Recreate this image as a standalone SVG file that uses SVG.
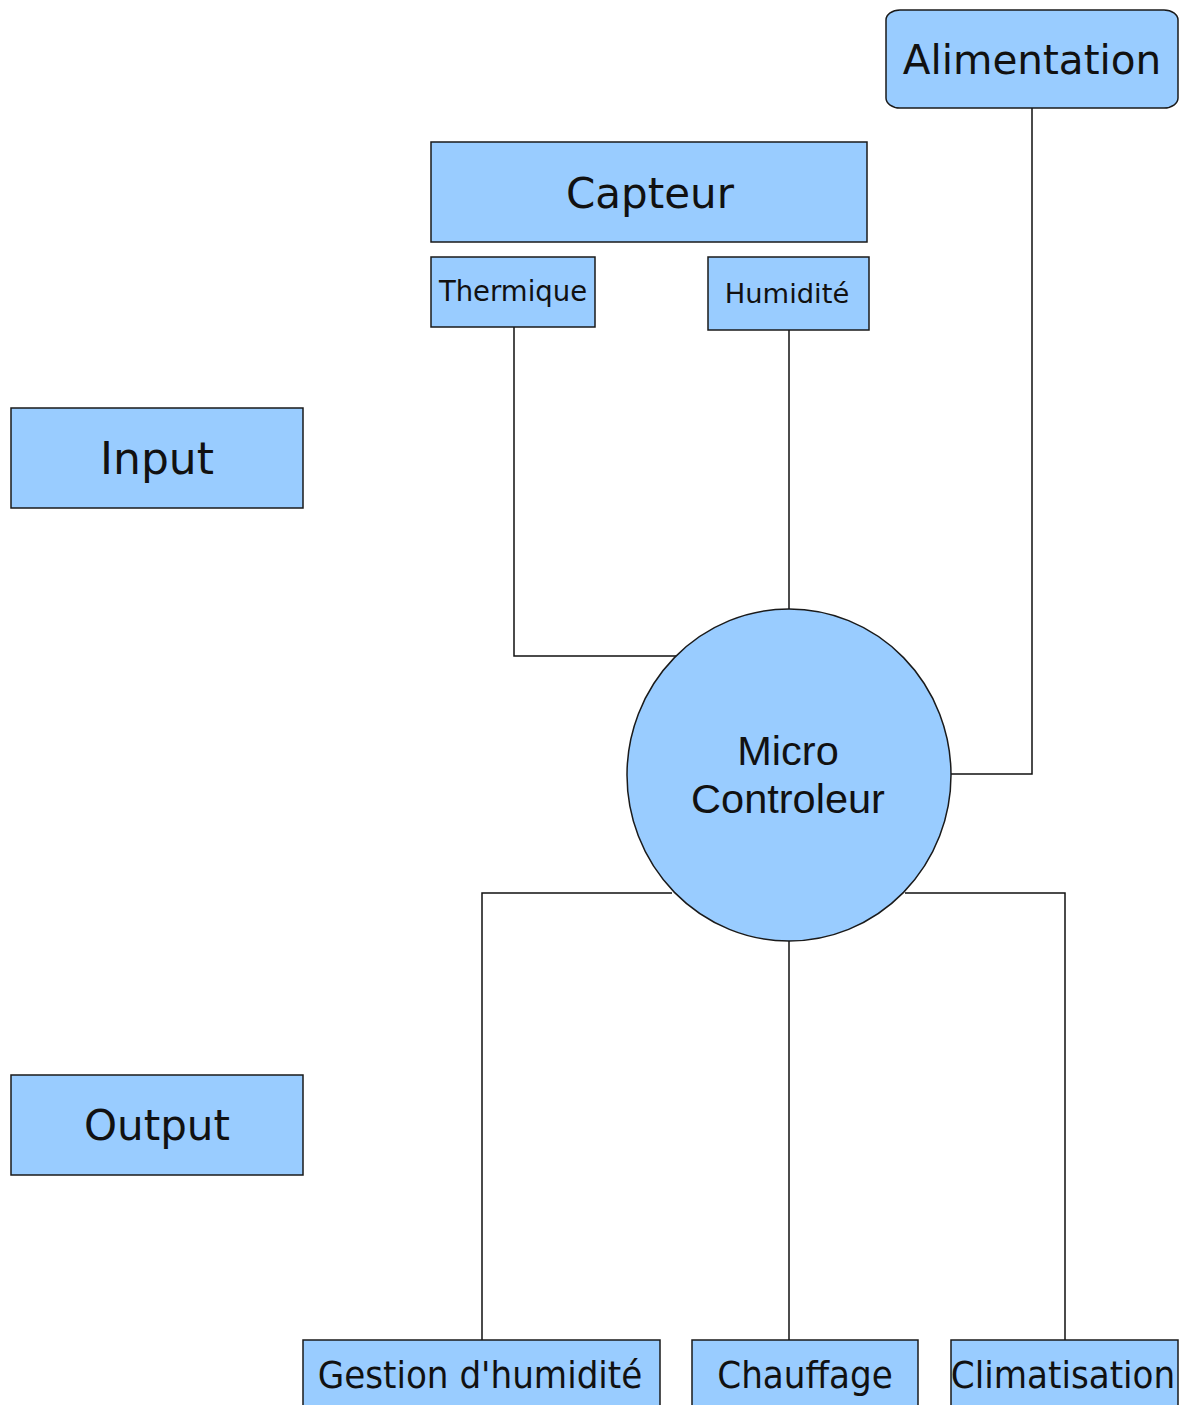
<svg xmlns="http://www.w3.org/2000/svg" width="1183" height="1405" viewBox="0 0 1183 1405">
<style>
.box{fill:#99ccff;stroke:#1a1a1a;stroke-width:1.5}
.t{font-family:"DejaVu Sans",sans-serif;fill:#111;text-anchor:middle}
.tc{font-family:"DejaVu Sans Condensed","DejaVu Sans",sans-serif;font-stretch:condensed;fill:#111;text-anchor:middle}
.ta{font-family:"Liberation Sans",Arial,sans-serif;fill:#111;text-anchor:middle}
.c{fill:none;stroke:#111;stroke-width:1.5}
</style>
<rect width="1183" height="1405" fill="#fff"/>
<g id="connectors">
<polyline class="c" points="514,327 514,656 676,656"/>
<line class="c" x1="789" y1="330" x2="789" y2="609"/>
<polyline class="c" points="1032,108 1032,774 951,774"/>
<polyline class="c" points="672,893 482,893 482,1340"/>
<line class="c" x1="789" y1="941" x2="789" y2="1340"/>
<polyline class="c" points="905,893 1065,893 1065,1340"/>
</g>
<g id="alimentation">
<rect class="box" x="886" y="10" width="292" height="98" rx="14" ry="10"/>
<text class="t" x="1032" y="74" font-size="40.5">Alimentation</text>
</g>
<g id="capteur">
<rect class="box" x="431" y="142" width="436" height="100"/>
<text class="t" x="650" y="208" font-size="42">Capteur</text>
</g>
<g id="thermique">
<rect class="box" x="431" y="257" width="164" height="70"/>
<text class="t" x="513" y="301" font-size="27.5">Thermique</text>
</g>
<g id="humidite">
<rect class="box" x="708" y="257" width="161" height="73"/>
<text class="t" x="787" y="303" font-size="27.3">Humidité</text>
</g>
<g id="input">
<rect class="box" x="11" y="408" width="292" height="100"/>
<text class="t" x="157" y="474" font-size="44">Input</text>
</g>
<g id="output">
<rect class="box" x="11" y="1075" width="292" height="100"/>
<text class="t" x="157" y="1140" font-size="42">Output</text>
</g>
<g id="microcontroleur">
<ellipse class="box" cx="789" cy="775" rx="162" ry="166"/>
<text class="ta" x="788" y="765" font-size="41.5">Micro</text>
<text class="ta" x="788" y="813" font-size="41.5">Controleur</text>
</g>
<g id="gestion">
<rect class="box" x="303" y="1340" width="357" height="70"/>
<text class="tc" x="480" y="1388" font-size="38">Gestion d'humidité</text>
</g>
<g id="chauffage">
<rect class="box" x="692" y="1340" width="226" height="70"/>
<text class="tc" x="805" y="1388" font-size="38">Chauffage</text>
</g>
<g id="climatisation">
<rect class="box" x="951" y="1340" width="227" height="70"/>
<text class="tc" x="1063" y="1388" font-size="38">Climatisation</text>
</g>
</svg>
